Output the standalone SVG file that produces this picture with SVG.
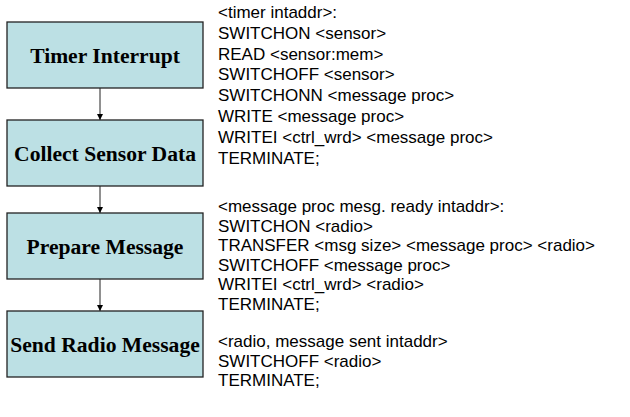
<svg xmlns="http://www.w3.org/2000/svg" width="630" height="417" viewBox="0 0 630 417">
<defs>
<style>
.box{fill:#BCE0E4;stroke:#222;stroke-width:1.3}
.lbl{font-family:"Liberation Serif","Times New Roman",serif;font-weight:bold;font-size:21.6px;fill:#000;text-anchor:middle}
.code{font-family:"Liberation Sans",Arial,sans-serif;font-size:17px;fill:#000}
.conn{stroke:#222;stroke-width:1;fill:none;marker-end:url(#ah)}
</style>
<marker id="ah" viewBox="0 0 10 10" refX="10" refY="5" markerUnits="userSpaceOnUse" markerWidth="6" markerHeight="6" orient="auto">
<path d="M0,0 L10,5 L0,10 z" fill="#000"/>
</marker>
</defs>
<rect width="630" height="417" fill="#fff"/>
<g id="connectors">
<line class="conn" x1="100" y1="88" x2="100" y2="120"/>
<line class="conn" x1="100" y1="186" x2="100" y2="213"/>
<line class="conn" x1="100" y1="279" x2="100" y2="311"/>
</g>
<g id="timer-interrupt">
<rect class="box" x="7" y="22" width="196" height="66"/>
<text class="lbl" x="105" y="62.5">Timer Interrupt</text>
</g>
<g id="collect-sensor-data">
<rect class="box" x="7" y="120" width="196" height="66"/>
<text class="lbl" x="105" y="160.5">Collect Sensor Data</text>
</g>
<g id="prepare-message">
<rect class="box" x="7" y="213" width="196" height="66"/>
<text class="lbl" x="105" y="253.5">Prepare Message</text>
</g>
<g id="send-radio-message">
<rect class="box" x="7" y="311" width="196" height="66"/>
<text class="lbl" x="105" y="351.5">Send Radio Message</text>
</g>
<g id="code">
<text class="code" x="218" y="18">&lt;timer intaddr&gt;:</text>
<text class="code" x="218" y="38.8">SWITCHON &lt;sensor&gt;</text>
<text class="code" x="218" y="59.6">READ &lt;sensor:mem&gt;</text>
<text class="code" x="218" y="80.4">SWITCHOFF &lt;sensor&gt;</text>
<text class="code" x="218" y="101.2">SWITCHONN &lt;message proc&gt;</text>
<text class="code" x="218" y="122">WRITE &lt;message proc&gt;</text>
<text class="code" x="218" y="142.8">WRITEI &lt;ctrl_wrd&gt; &lt;message proc&gt;</text>
<text class="code" x="218" y="163.6">TERMINATE;</text>
<text class="code" x="218" y="212">&lt;message proc mesg. ready intaddr&gt;:</text>
<text class="code" x="218" y="231.6">SWITCHON &lt;radio&gt;</text>
<text class="code" x="218" y="251.2">TRANSFER &lt;msg size&gt; &lt;message proc&gt; &lt;radio&gt;</text>
<text class="code" x="218" y="270.8">SWITCHOFF &lt;message proc&gt;</text>
<text class="code" x="218" y="290.4">WRITEI &lt;ctrl_wrd&gt; &lt;radio&gt;</text>
<text class="code" x="218" y="310">TERMINATE;</text>
<text class="code" x="218" y="347">&lt;radio, message sent intaddr&gt;</text>
<text class="code" x="218" y="366.5">SWITCHOFF &lt;radio&gt;</text>
<text class="code" x="218" y="386">TERMINATE;</text>
</g>
</svg>
